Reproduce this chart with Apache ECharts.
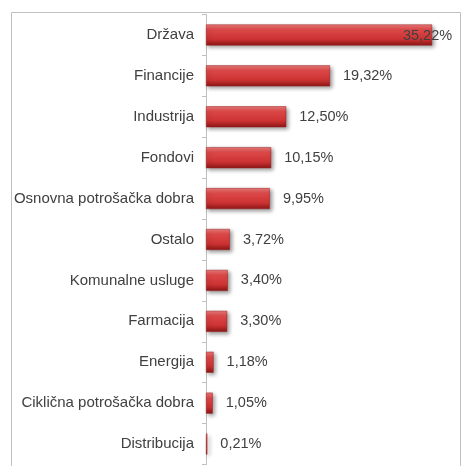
<!DOCTYPE html>
<html>
<head>
<meta charset="utf-8">
<script src="https://cdn.jsdelivr.net/npm/echarts@6/dist/echarts.min.js"></script>
<style>
  html, body { margin: 0; padding: 0; background: #fff; }
  #chart { width: 467px; height: 466px; }
</style>
</head>
<body>
<div id="chart"></div>
<script>
// kategorije odozgo prema dolje
const categories = ['Država', 'Financije', 'Industrija', 'Fondovi', 'Osnovna potrošačka dobra',
  'Ostalo', 'Komunalne usluge', 'Farmacija', 'Energija', 'Ciklična potrošačka dobra', 'Distribucija'];
// udio u %
const shares = [35.22, 19.32, 12.50, 10.15, 9.95, 3.72, 3.40, 3.30, 1.18, 1.05, 0.21];

const myChart = echarts.init(document.getElementById('chart'));

// stil stupca - crveni gradijent kao u Excelu
const barColor = new echarts.graphic.LinearGradient(0, 0, 0, 1, [
  {offset: 0, color: '#ec7a7a'},
  {offset: 0.25, color: '#dc4848'},
  {offset: 0.7, color: '#cc3232'},
  {offset: 1, color: '#8c1616'}
]);

const data = shares.map(function (v, i) {
  const item = {value: v};
  if (i === 0) {
    // prva oznaka preklapa kraj stupca
    item.label = {position: 'insideRight', offset: [33, 1]};
  }
  return item;
});

myChart.setOption({
  animation: false,
  graphic: [{
    type: 'rect',
    shape: {x: 11.5, y: 12.5, width: 449, height: 480},
    style: {fill: 'none', stroke: '#c0c0c0', lineWidth: 1},
    z: -1
  }],
  grid: {
    left: 206,
    top: 14.5,
    width: 256.8,
    height: 450
  },
  xAxis: {
    type: 'value',
    min: 0,
    max: 40,
    show: false
  },
  yAxis: {
    type: 'category',
    inverse: true,
    data: categories,
    axisLine: {lineStyle: {color: '#c0c0c0'}},
    axisTick: {show: true, length: 4, lineStyle: {color: '#c0c0c0'}},
    axisLabel: {
      color: '#404040',
      fontFamily: 'Liberation Sans, Arial',
      fontSize: 15,
      margin: 12
    }
  },
  series: [{
    type: 'bar',
    data: data,
    barWidth: 21,
    itemStyle: {
      color: barColor,
      borderColor: '#9a2020',
      borderWidth: 0.5,
      shadowBlur: 4,
      shadowColor: 'rgba(0,0,0,0.4)',
      shadowOffsetX: 2,
      shadowOffsetY: 2
    },
    label: {
      show: true,
      position: 'right',
      distance: 13,
      color: '#404040',
      fontFamily: 'Liberation Sans, Arial',
      fontSize: 14.5,
      formatter: function (p) {
        return p.value.toFixed(2).replace('.', ',') + '%';
      }
    }
  }]
});
</script>
</body>
</html>
